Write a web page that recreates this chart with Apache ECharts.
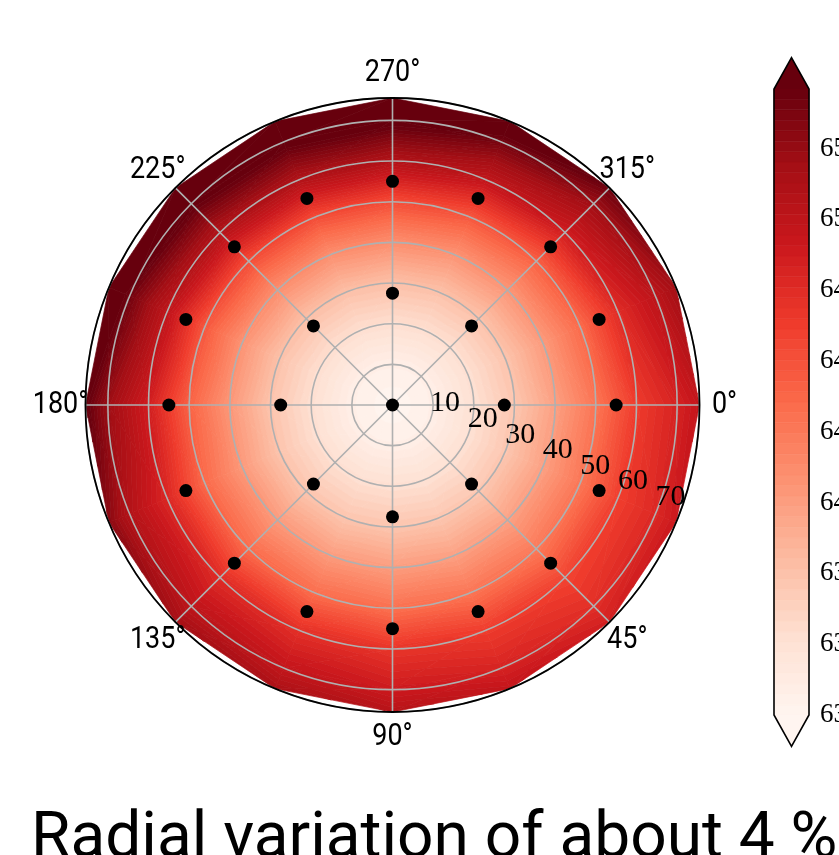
<!DOCTYPE html>
<html><head><meta charset="utf-8">
<script src="https://cdn.jsdelivr.net/npm/echarts@6/dist/echarts.min.js"></script>
<style>html,body{margin:0;padding:0;background:#fff}#c{width:839px;height:855px}</style>
</head><body><div id="c"></div>
<script>
// ---------------- data ----------------
const RADII = [0, 10, 20, 30, 40, 50, 60, 70, 75.5];
const ANGLES = [0, 22.5, 45, 67.5, 90, 112.5, 135, 157.5, 180, 202.5, 225, 247.5, 270, 292.5, 315, 337.5];
const CENTER_VALUE = 63.25;
// values on each ring, one per angle in ANGLES
const RING_10 = [63.33, 63.33, 63.33, 63.33, 63.33, 63.33, 63.33, 63.33, 63.33, 63.33, 63.33, 63.33, 63.33, 63.33, 63.33, 63.33];
const RING_20 = [63.51, 63.51, 63.51, 63.51, 63.52, 63.52, 63.52, 63.52, 63.52, 63.53, 63.53, 63.53, 63.53, 63.53, 63.52, 63.52];
const RING_30 = [63.71, 63.71, 63.70, 63.71, 63.72, 63.72, 63.72, 63.73, 63.73, 63.75, 63.76, 63.76, 63.76, 63.75, 63.74, 63.73];
const RING_40 = [63.98, 63.98, 63.97, 63.98, 64.00, 64.01, 64.02, 64.03, 64.04, 64.07, 64.10, 64.10, 64.10, 64.07, 64.05, 64.02];
const RING_50 = [64.28, 64.27, 64.25, 64.28, 64.31, 64.33, 64.34, 64.36, 64.40, 64.47, 64.53, 64.54, 64.53, 64.47, 64.41, 64.35];
const RING_60 = [64.63, 64.61, 64.58, 64.63, 64.68, 64.72, 64.75, 64.79, 64.86, 64.99, 65.08, 65.10, 65.09, 64.98, 64.87, 64.75];
const RING_70 = [64.82, 64.78, 64.73, 64.82, 64.89, 64.96, 65.00, 65.08, 65.22, 65.41, 65.51, 65.53, 65.52, 65.39, 65.21, 65.01];
const RING_75 = [64.96, 64.91, 64.85, 64.96, 65.05, 65.13, 65.18, 65.30, 65.48, 65.66, 65.80, 65.83, 65.83, 65.63, 65.43, 65.19];
const RINGS = [RING_10, RING_20, RING_30, RING_40, RING_50, RING_60, RING_70, RING_75];

// measurement points (black dots)
const DOT_CENTER = [[0, 0]];
const DOT_INNER_R = 27.5;
const DOT_INNER_ANGLES = [0, 45, 90, 135, 180, 225, 270, 315];
const DOT_OUTER_R = 55;
const DOT_OUTER_ANGLES = [0, 22.5, 45, 67.5, 90, 112.5, 135, 157.5, 180, 202.5, 225, 247.5, 270, 292.5, 315, 337.5];

const R_MAX = 75.5;
const R_TICKS = [10, 20, 30, 40, 50, 60, 70];
const R_LABEL_ANGLE = 22.5;
const THETA_TICKS = [0, 45, 90, 135, 180, 225, 270, 315];
const CB_TICKS = [63.25, 63.5, 63.75, 64.0, 64.25, 64.5, 64.75, 65.0, 65.25];
const LEVEL_MIN = 63.25, LEVEL_MAX = 65.46, N_LEVELS = 60;
const TITLE = 'Radial variation of about 4 %';

// ---------------- colormap (matplotlib Reds) ----------------
const REDS = ['#fff5f0','#fee0d2','#fcbba1','#fc9272','#fb6a4a','#ef3b2c','#cb181d','#a50f15','#67000d'];
function hex2rgb(h){return [parseInt(h.slice(1,3),16),parseInt(h.slice(3,5),16),parseInt(h.slice(5,7),16)];}
const REDS_RGB = REDS.map(hex2rgb);
function reds(t){
  t = Math.max(0, Math.min(1, t));
  const s = t * (REDS_RGB.length - 1);
  const i = Math.min(Math.floor(s), REDS_RGB.length - 2);
  const f = s - i;
  const a = REDS_RGB[i], b = REDS_RGB[i+1];
  return 'rgb(' + [0,1,2].map(k => Math.round(a[k] + (b[k]-a[k])*f)).join(',') + ')';
}
const STEP = (LEVEL_MAX - LEVEL_MIN) / N_LEVELS;
const INNER_BANDS = [];
for (let k = 0; k < N_LEVELS; k++) {
  const lo = LEVEL_MIN + k*STEP, hi = lo + STEP;
  INNER_BANDS.push({lo, hi, color: reds((k + 0.5) / N_LEVELS)});
}
const UNDER_COLOR = reds(0), OVER_COLOR = reds(1);
const ALL_BANDS = [{lo: -Infinity, hi: LEVEL_MIN, color: UNDER_COLOR}].concat(INNER_BANDS, [{lo: LEVEL_MAX, hi: Infinity, color: OVER_COLOR}]);

// ---------------- triangulation of the polar grid ----------------
function node(i, j) {
  const jj = j % ANGLES.length;
  const ang = j === ANGLES.length ? 360 : ANGLES[jj];
  if (i === 0) return [0, ang, CENTER_VALUE];
  return [RADII[i], ang, RINGS[i-1][jj]];
}
const TRIANGLES = [];
for (let i = 0; i < RADII.length - 1; i++) {
  for (let j = 0; j < ANGLES.length; j++) {
    if (i === 0) {
      TRIANGLES.push([].concat(node(0, j), node(1, j), node(1, j+1)));
    } else {
      TRIANGLES.push([].concat(node(i, j), node(i, j+1), node(i+1, j+1)));
      TRIANGLES.push([].concat(node(i, j), node(i+1, j+1), node(i+1, j)));
    }
  }
}
function clipPoly(poly, level, keepAbove) {
  const out = [];
  const n = poly.length;
  for (let i = 0; i < n; i++) {
    const a = poly[i], b = poly[(i+1) % n];
    const ina = keepAbove ? a.v >= level : a.v <= level;
    const inb = keepAbove ? b.v >= level : b.v <= level;
    if (ina) out.push(a);
    if (ina !== inb) {
      const t = (level - a.v) / (b.v - a.v);
      out.push({x: a.x + t*(b.x - a.x), y: a.y + t*(b.y - a.y), v: level});
    }
  }
  return out;
}

const dotData = DOT_CENTER.concat(DOT_INNER_ANGLES.map(a => [DOT_INNER_R, a]), DOT_OUTER_ANGLES.map(a => [DOT_OUTER_R, a]));

const chart = echarts.init(document.getElementById('c'), null, {renderer: 'canvas'});
const SERIF = '"Liberation Serif", "DejaVu Serif", serif';
const GRID_COLOR = '#b0b0b0';

chart.setOption({
  animation: false,
  backgroundColor: '#fff',
  polar: {center: [392.5, 405], radius: 307},
  angleAxis: {
    type: 'value', min: 0, max: 360, interval: 45, startAngle: 0, clockwise: true, z: 6,
    axisLine: {show: true, lineStyle: {color: '#000', width: 1.8}},
    axisTick: {show: false}, axisLabel: {show: false},
    splitLine: {show: true, lineStyle: {color: GRID_COLOR, width: 1.6}}
  },
  radiusAxis: {
    type: 'value', min: 0, max: R_MAX, interval: 10, z: 5,
    axisLine: {show: false}, axisTick: {show: false}, axisLabel: {show: false},
    splitLine: {show: true, showMaxLine: false, showMinLine: false, lineStyle: {color: GRID_COLOR, width: 1.6}}
  },
  grid: {left: 774, top: 89, width: 35, height: 626, containLabel: false, outerBoundsMode: 'none'},
  xAxis: {type: 'value', min: 0, max: 1, show: false},
  yAxis: {
    type: 'value', position: 'right', min: LEVEL_MIN, max: LEVEL_MAX,
    axisLine: {show: false},
    axisTick: {show: true, inside: false, length: 5, lineStyle: {color: '#000', width: 1.2}, customValues: CB_TICKS},
    axisLabel: {show: true, customValues: CB_TICKS, margin: 11, color: '#000', fontFamily: SERIF, fontSize: 27,
      formatter: v => Number(v).toFixed(2)},
    splitLine: {show: false}
  },
  graphic: [{
    type: 'text', x: 31, y: 841, silent: true,
    style: {text: TITLE, font: '64px Roboto', fill: '#000', align: 'left', verticalAlign: 'middle'}
  }],
  series: [
    {
      type: 'custom', coordinateSystem: 'polar', z: 1, silent: true,
      data: TRIANGLES,
      renderItem: function (params, api) {
        const pts = [];
        for (let k = 0; k < 3; k++) {
          const p = api.coord([api.value(3*k), api.value(3*k + 1)]);
          pts.push({x: p[0], y: p[1], v: api.value(3*k + 2)});
        }
        const vmin = Math.min(pts[0].v, pts[1].v, pts[2].v), vmax = Math.max(pts[0].v, pts[1].v, pts[2].v);
        const children = [];
        for (const b of ALL_BANDS) {
          if (vmax < b.lo || vmin > b.hi) continue;
          let poly = pts;
          if (b.lo > -Infinity) poly = clipPoly(poly, b.lo, true);
          if (poly.length >= 3 && b.hi < Infinity) poly = clipPoly(poly, b.hi, false);
          if (poly.length >= 3) {
            children.push({type: 'polygon', shape: {points: poly.map(p => [p.x, p.y])},
              style: {fill: b.color, stroke: b.color, lineWidth: 0.7}});
          }
        }
        return {type: 'group', children};
      }
    },
    {
      type: 'scatter', coordinateSystem: 'polar', z: 10, silent: true,
      symbol: 'circle', symbolSize: 13, itemStyle: {color: '#000', opacity: 1},
      data: dotData
    },
    {
      type: 'custom', coordinateSystem: 'polar', z: 11, silent: true,
      data: R_TICKS.map(r => [r, R_LABEL_ANGLE]),
      renderItem: function (params, api) {
        const p = api.coord([api.value(0), api.value(1)]);
        return {type: 'text', x: p[0], y: p[1] - 17,
          style: {text: String(api.value(0)), font: '30px ' + SERIF, fill: '#000', align: 'left', verticalAlign: 'middle'}};
      }
    },
    {
      type: 'custom', coordinateSystem: 'polar', z: 11, silent: true,
      data: THETA_TICKS.map(a => [R_MAX, a]),
      renderItem: function (params, api) {
        const p = api.coord([api.value(0), api.value(1)]);
        const c = api.coord([0, api.value(1)]);
        const dx = p[0] - c[0], dy = p[1] - c[1];
        const L = Math.sqrt(dx*dx + dy*dy) || 1;
        const pad = 25;
        return {type: 'text', x: p[0] + dx/L*pad, y: p[1] + dy/L*pad, scaleX: 0.87,
          style: {text: api.value(1) + '°', font: '31px Roboto', fill: '#000', align: 'center', verticalAlign: 'middle'}};
      }
    },
    {
      type: 'custom', coordinateSystem: 'cartesian2d', xAxisIndex: 0, yAxisIndex: 0, z: 3, silent: true,
      data: [[0, LEVEL_MIN]],
      renderItem: function (params, api) {
        const children = [];
        for (const b of INNER_BANDS) {
          const p0 = api.coord([0, b.lo]), p1 = api.coord([1, b.hi]);
          children.push({type: 'rect', shape: {x: p0[0], y: p1[1], width: p1[0] - p0[0], height: p0[1] - p1[1]},
            style: {fill: b.color, stroke: b.color, lineWidth: 0.6}});
        }
        const bl = api.coord([0, LEVEL_MIN]), br = api.coord([1, LEVEL_MIN]);
        const tl = api.coord([0, LEVEL_MAX]), tr = api.coord([1, LEVEL_MAX]);
        const ext = (bl[1] - tl[1]) * 0.05;
        const mx = (bl[0] + br[0]) / 2;
        children.push({type: 'polygon', shape: {points: [tl, tr, [mx, tl[1] - ext]]}, style: {fill: OVER_COLOR}});
        children.push({type: 'polygon', shape: {points: [bl, br, [mx, bl[1] + ext]]}, style: {fill: UNDER_COLOR}});
        children.push({type: 'polygon', shape: {points: [bl, tl, [mx, tl[1] - ext], tr, br, [mx, bl[1] + ext]]},
          style: {fill: 'none', stroke: '#000', lineWidth: 1.6}});
        return {type: 'group', children};
      }
    }
  ]
});
</script></body></html>
